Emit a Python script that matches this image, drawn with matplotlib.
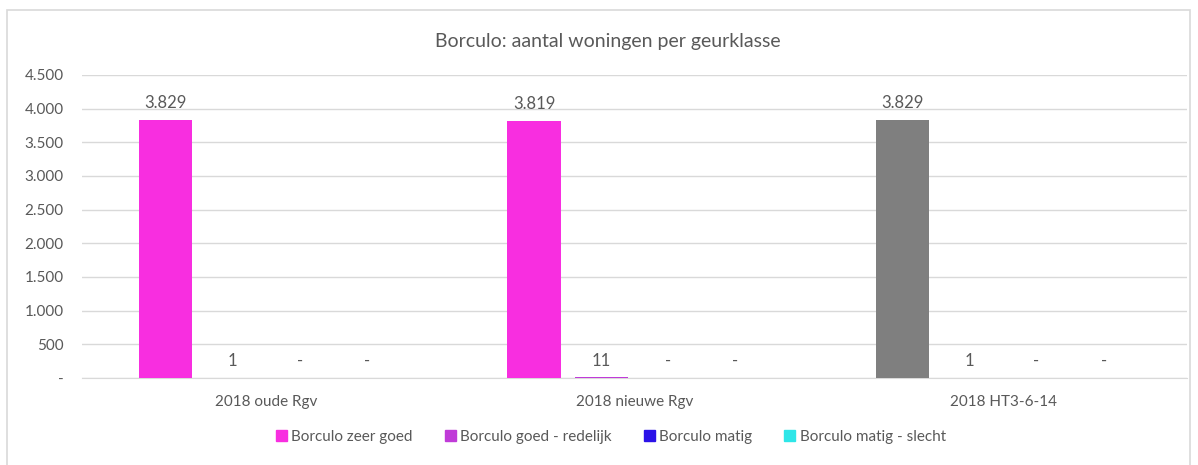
import numpy as np
import matplotlib.pyplot as plt
from matplotlib.patches import Rectangle

plt.rcParams['font.family'] = ['Lato', 'DejaVu Sans']

categories = ['2018 oude Rgv', '2018 nieuwe Rgv', '2018 HT3-6-14']
series = ['Borculo zeer goed', 'Borculo goed - redelijk', 'Borculo matig', 'Borculo matig - slecht']
zeer_goed = [3829, 3819, 3829]
goed_redelijk = [1, 11, 1]
matig = [0, 0, 0]
matig_slecht = [0, 0, 0]
values = [zeer_goed, goed_redelijk, matig, matig_slecht]
colors = ['#F82EE0', '#C03BD8', '#2B12E8', '#2EE6E8']
yticks = [0, 500, 1000, 1500, 2000, 2500, 3000, 3500, 4000, 4500]

txt = '#595959'
fig = plt.figure(figsize=(11.98, 4.65), dpi=100)
fig.patches.append(Rectangle((7 / 1198, -0.01), 1183 / 1198, 1 - 10 / 465 + 0.01,
                             transform=fig.transFigure, fill=False,
                             edgecolor='#D9D9D9', linewidth=1.2))
ax = fig.add_axes([0.0684, 0.187, 0.9226, 0.652])

x = np.arange(len(categories))
step = 0.182
width = 0.144
for i, (name, vals, col) in enumerate(zip(series, values, colors)):
    pos = x + (i - 1.5) * step
    bar_cols = [col] * len(vals)
    if i == 0:
        bar_cols[2] = '#7F7F7F'  # last group shown in grey
    ax.bar(pos, vals, width, color=bar_cols, label=name, zorder=3)
    for p, v in zip(pos, vals):
        lab = f'{v:,}'.replace(',', '.') if v else '-'
        ax.text(p, v + 130, lab, ha='center', va='bottom', fontsize=12, color=txt)

ax.set_xlim(-0.5, 2.5)
ax.set_ylim(0, 4500)
ax.set_yticks(yticks)
ax.set_yticklabels([f'{t:,}'.replace(',', '.') if t else '-' for t in yticks])
ax.set_xticks(x)
ax.set_xticklabels(categories)
ax.tick_params(length=0, labelsize=11, colors=txt)
ax.tick_params(axis='x', pad=12)
ax.tick_params(axis='y', pad=13)
ax.grid(axis='y', color='#D9D9D9', linewidth=1, zorder=0)
for s in ['top', 'right', 'left']:
    ax.spines[s].set_visible(False)
ax.spines['bottom'].set_color('#D9D9D9')

fig.text(0.507, 0.91, 'Borculo: aantal woningen per geurklasse', ha='center',
         va='center', fontsize=14, color=txt)

handles, labels = ax.get_legend_handles_labels()
leg = fig.legend(handles, labels, loc='center', bbox_to_anchor=(0.51, 0.06), ncol=4,
                 frameon=False, fontsize=11, handlelength=0.7, handleheight=0.7,
                 handletextpad=0.3, columnspacing=2.1, labelcolor=txt)
for h, c in zip(leg.legend_handles, colors):
    h.set_color(c)

plt.savefig('out.png', dpi=100)
